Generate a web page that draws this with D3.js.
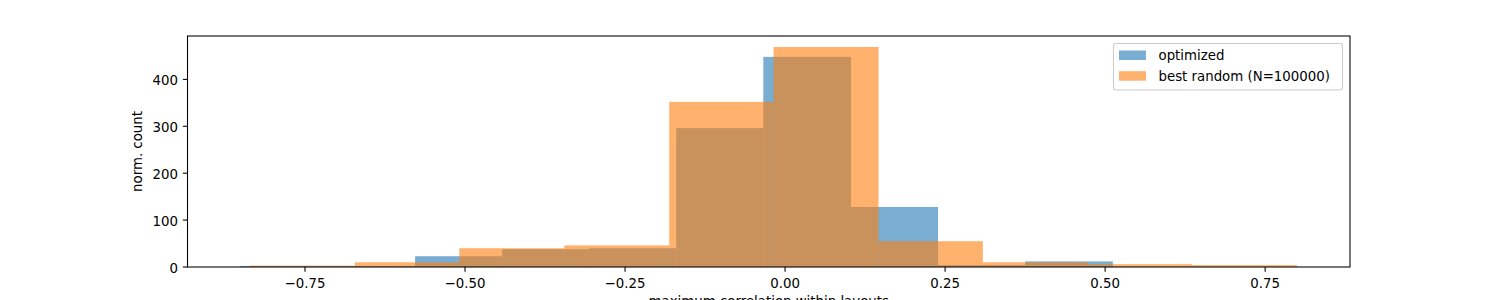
<!DOCTYPE html>
<html>
<head>
<meta charset="utf-8">
<script src="https://cdn.jsdelivr.net/npm/d3@7"></script>
<style>
  html, body { margin: 0; padding: 0; background: #fff; }
  svg { display: block; font-family: "DejaVu Sans", sans-serif; }
</style>
</head>
<body>
<svg id="chart" width="1500" height="300"></svg>
<script>
// ---- data ----
const optimizedEdges = [-0.851, -0.715, -0.578, -0.442, -0.306, -0.170, -0.034, 0.103, 0.239, 0.375, 0.512];
const optimizedCounts = [2, 2, 23, 38, 40, 296, 448, 128, 4, 12];
const randomEdges = [-0.836, -0.672, -0.509, -0.345, -0.181, -0.018, 0.146, 0.309, 0.473, 0.636, 0.800];
const randomCounts = [3, 10, 40, 46, 352, 469, 55, 10, 6, 4];
const seriesNames = ["optimized", "best random (N=100000)"];
const xTicks = [-0.75, -0.50, -0.25, 0.00, 0.25, 0.50, 0.75];
const yTicks = [0, 100, 200, 300, 400];
const xLabel = "maximum correlation within layouts";
const yLabel = "norm. count";

// ---- layout ----
const W = 1500, H = 300;
const L = 187.5, R = 1350, T = 36, B = 267;
const colors = ["#1f77b4", "#ff7f0e"];
const alpha = 0.6;

const svg = d3.select("#chart");

const lo = Math.min(optimizedEdges[0], randomEdges[0]);
const hi = Math.max(optimizedEdges[optimizedEdges.length - 1], randomEdges[randomEdges.length - 1]);
const pad = 0.05 * (hi - lo);
const x = d3.scaleLinear().domain([lo - pad, hi + pad]).range([L, R]);
const yMax = 1.05 * Math.max(d3.max(optimizedCounts), d3.max(randomCounts));
const y = d3.scaleLinear().domain([0, yMax]).range([B, T]);

const series = [
  { edges: optimizedEdges, counts: optimizedCounts },
  { edges: randomEdges, counts: randomCounts }
];

const plot = svg.append("g");
series.forEach((s, i) => {
  const bins = s.counts.map((c, j) => ({ x0: s.edges[j], x1: s.edges[j + 1], c }));
  plot.append("g").selectAll("rect").data(bins).join("rect")
    .attr("x", d => x(d.x0))
    .attr("width", d => x(d.x1) - x(d.x0))
    .attr("y", d => y(d.c))
    .attr("height", d => y(0) - y(d.c))
    .attr("fill", colors[i])
    .attr("fill-opacity", alpha);
});

// frame
svg.append("rect")
  .attr("x", L).attr("y", T).attr("width", R - L).attr("height", B - T)
  .attr("fill", "none").attr("stroke", "#000").attr("stroke-width", 1.07);

// x axis
const fmtX = d3.format(".2f");
const xAxis = svg.append("g").attr("transform", `translate(0,${B})`);
xTicks.forEach(t => {
  const g = xAxis.append("g").attr("transform", `translate(${x(t)},0)`);
  g.append("line").attr("y1", 0).attr("y2", 4.67).attr("stroke", "#000").attr("stroke-width", 1.07);
  g.append("text").attr("y", 20.5).attr("text-anchor", "middle")
    .attr("font-size", "13.33px").attr("fill", "#000").text(fmtX(t));
});

// y axis
const yAxis = svg.append("g").attr("transform", `translate(${L},0)`);
yTicks.forEach(t => {
  const g = yAxis.append("g").attr("transform", `translate(0,${y(t)})`);
  g.append("line").attr("x1", 0).attr("x2", -4.67).attr("stroke", "#000").attr("stroke-width", 1.07);
  g.append("text").attr("x", -9.5).attr("dy", "0.42em").attr("text-anchor", "end")
    .attr("font-size", "13.33px").attr("fill", "#000").text(t);
});

// axis labels
svg.append("text").attr("x", (L + R) / 2).attr("y", 306).attr("text-anchor", "middle")
  .attr("font-size", "13.33px").attr("fill", "#000").text(xLabel);
svg.append("text")
  .attr("transform", `translate(141.5,${(T + B) / 2}) rotate(-90)`)
  .attr("text-anchor", "middle").attr("font-size", "13.33px").attr("fill", "#000").text(yLabel);

// legend
const lg = svg.append("g");
lg.append("rect").attr("x", 1113.5).attr("y", 43.5).attr("width", 229).attr("height", 46.5)
  .attr("rx", 2.5).attr("fill", "#fff").attr("fill-opacity", 0.8)
  .attr("stroke", "#cccccc").attr("stroke-width", 1.07);
seriesNames.forEach((n, i) => {
  const yy = 50.5 + i * 20.7;
  lg.append("rect").attr("x", 1119).attr("y", yy).attr("width", 27).attr("height", 9.5)
    .attr("fill", colors[i]).attr("fill-opacity", alpha);
  lg.append("text").attr("x", 1158.5).attr("y", yy + 9.5).attr("font-size", "13.33px")
    .attr("fill", "#000").text(n);
});
</script>
</body>
</html>
